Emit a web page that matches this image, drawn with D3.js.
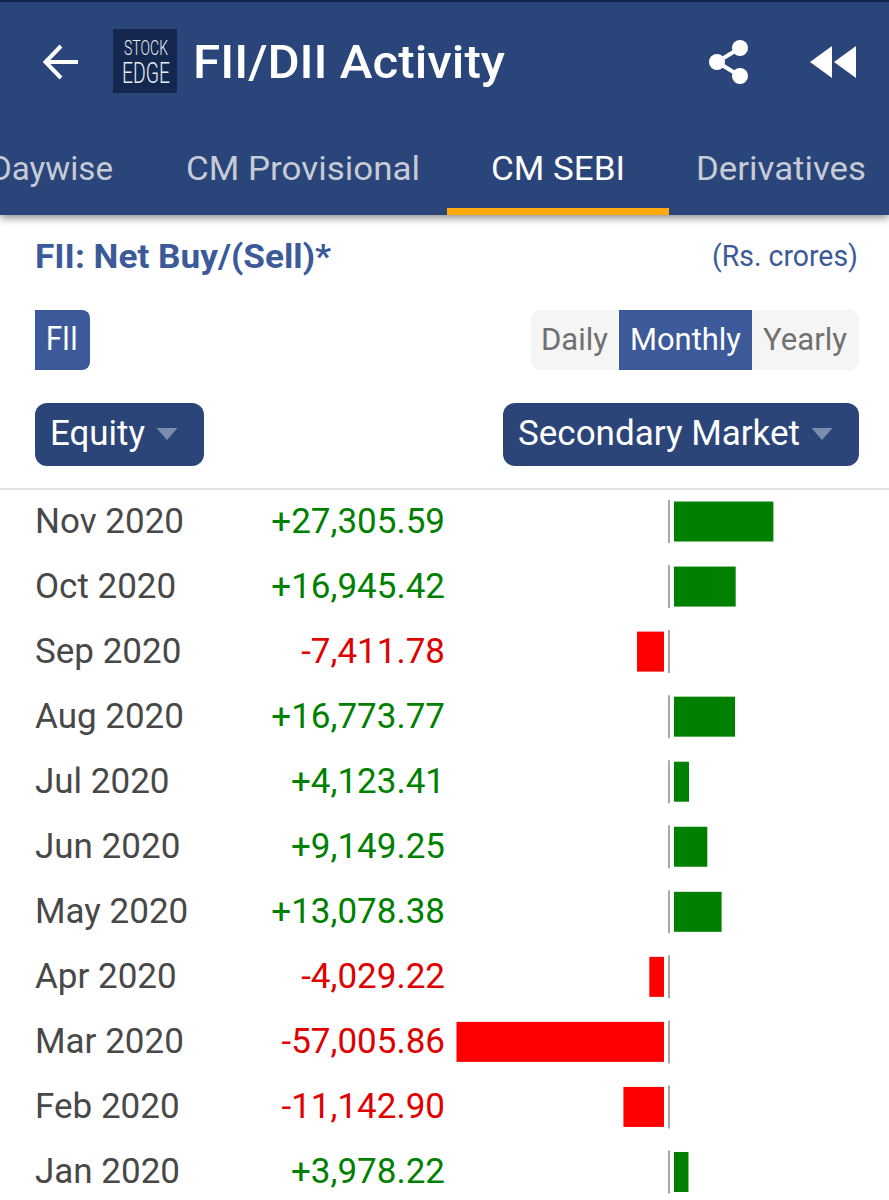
<!DOCTYPE html>
<html>
<head>
<meta charset="utf-8">
<script src="https://cdn.jsdelivr.net/npm/d3@7"></script>
<style>
html, body { margin: 0; padding: 0; background: #fff; }
svg { display: block; }
text { font-family: Roboto, sans-serif; }
</style>
</head>
<body>
<svg width="889" height="1200"></svg>
<script>
var months = ["Nov 2020", "Oct 2020", "Sep 2020", "Aug 2020", "Jul 2020", "Jun 2020", "May 2020", "Apr 2020", "Mar 2020", "Feb 2020", "Jan 2020"];
var netValues = [27305.59, 16945.42, -7411.78, 16773.77, 4123.41, 9149.25, 13078.38, -4029.22, -57005.86, -11142.90, 3978.22];
var tabs = ["Daywise", "CM Provisional", "CM SEBI", "Derivatives"];
var periods = ["Daily", "Monthly", "Yearly"];

var navy = "#2b4579";
var blue = "#3c5a99";
var svg = d3.select("svg");

// "-" not the d3 default unicode minus
var fmt = d3.formatLocale({decimal: ".", thousands: ",", grouping: [3], currency: ["", ""], minus: "-"}).format("+,.2f");

function label(x, y, str, size, color, anchor, weight, len) {
    var t = svg.append("text")
        .attr("x", x).attr("y", y)
        .attr("font-size", size)
        .attr("fill", color)
        .attr("text-anchor", anchor || "start")
        .attr("font-weight", weight || 400)
        .text(str);
    if (len) t.attr("textLength", len).attr("lengthAdjust", "spacingAndGlyphs");
    return t;
}

// header
svg.append("defs").append("filter").attr("id", "shadow")
    .attr("x", "-5%").attr("y", "-5%").attr("width", "110%").attr("height", "115%")
    .append("feDropShadow").attr("dx", 0).attr("dy", 3).attr("stdDeviation", 4)
    .attr("flood-color", "#000").attr("flood-opacity", .45);
svg.append("rect").attr("width", 889).attr("height", 215).attr("fill", navy).attr("filter", "url(#shadow)");
svg.append("rect").attr("width", 889).attr("height", 2).attr("fill", "#14244a");

// back arrow
svg.append("path").attr("d", "M78 62H47M61 46L45.500 62L61 78")
    .attr("fill", "none").attr("stroke", "#fff").attr("stroke-width", 4);

// logo
svg.append("rect").attr("x", 113).attr("y", 29).attr("width", 64).attr("height", 64).attr("fill", "#14284f");
label(146, 55, "STOCK", 21, "#e8ecf4", "middle", 300, 44);
label(146, 83, "EDGE", 29, "#e8ecf4", "middle", 300, 48);

label(193, 78, "FII/DII Activity", 47, "#fff", "start", 500, 312);

// share icon
svg.append("path").attr("d", "M740 48L717 62L740 76").attr("fill", "none").attr("stroke", "#fff").attr("stroke-width", 4);
[[740, 48], [717, 62], [740, 76]].forEach(function(p) {
    svg.append("circle").attr("cx", p[0]).attr("cy", p[1]).attr("r", 8).attr("fill", "#fff");
});
// rewind icon
svg.append("path").attr("d", "M810 62L832 46V78ZM834 62L856 46V78Z").attr("fill", "#fff");

// tabs
var tabX = [-10, 186, 491, 696];
var tabLen = [123, 234, 134, 170];
tabs.forEach(function(t, i) {
    label(tabX[i], 180, t, 34, i == 2 ? "#fff" : "#c6cbd6", "start", 400, tabLen[i]);
});
svg.append("rect").attr("x", 447).attr("y", 208).attr("width", 222).attr("height", 7).attr("fill", "#fdab0d");

// title row
label(35, 268, "FII: Net Buy/(Sell)*", 33, blue, "start", 700, 296);
label(858, 266, "(Rs. crores)", 29, blue, "end", 400, 146);

// FII button
svg.append("path").attr("d", "M35 310H82a8 8 0 0 1 8 8V362a8 8 0 0 1 -8 8H35Z").attr("fill", blue);
label(46, 350, "FII", 33, "#fff", "start", 400, 32);

// period switch
svg.append("rect").attr("x", 531).attr("y", 310).attr("width", 328).attr("height", 60).attr("rx", 9).attr("fill", "#f5f5f5");
svg.append("rect").attr("x", 619).attr("y", 310).attr("width", 133).attr("height", 60).attr("fill", blue);
var periodX = [541, 630, 763];
var periodLen = [67, 111, 84];
periods.forEach(function(p, i) {
    label(periodX[i], 350, p, 31, i == 1 ? "#fff" : "#707070", "start", 400, periodLen[i]);
});

// dropdowns
function dropdown(x, w, str, textLen) {
    svg.append("rect").attr("x", x).attr("y", 403).attr("width", w).attr("height", 63).attr("rx", 12).attr("fill", navy);
    label(x + 15, 445, str, 35, "#fff", "start", 400, textLen);
    var cx = x + w - 37;
    svg.append("path").attr("d", "M" + (cx - 10.500) + " 428H" + (cx + 10.500) + "L" + cx + " 440Z").attr("fill", "#7d8cab");
}
dropdown(35, 169, "Equity", 95);
dropdown(503, 356, "Secondary Market", 282);

// divider
svg.append("rect").attr("y", 488).attr("width", 889).attr("height", 2).attr("fill", "#e2e2e2");

// rows
var y = d3.scaleBand().domain(months).range([489, 1204.500]);
var x = d3.scaleLinear().domain([0, 57005.86]).range([0, 207.500]);
var zeroX = 669;
var gap = 5;

var rows = svg.selectAll("g.row").data(months.map(function(m, i) { return {month: m, value: netValues[i]}; }))
    .enter().append("g").attr("class", "row")
    .attr("transform", function(d) { return "translate(0," + (y(d.month) + y.bandwidth() / 2) + ")"; });

rows.append("text").attr("x", 35).attr("y", 11).attr("font-size", 35).attr("fill", "#484848")
    .text(function(d) { return d.month; });

rows.append("text").attr("x", 445).attr("y", 11).attr("font-size", 35).attr("text-anchor", "end")
    .attr("fill", function(d) { return d.value < 0 ? "#e00000" : "#008000"; })
    .text(function(d) { return fmt(d.value); });

rows.append("line").attr("x1", zeroX).attr("x2", zeroX).attr("y1", -21.500).attr("y2", 21.500)
    .attr("stroke", "#8a8a8a").attr("stroke-width", 1.500);

rows.append("rect")
    .attr("x", function(d) { return d.value < 0 ? zeroX - gap - x(-d.value) : zeroX + gap; })
    .attr("y", -20)
    .attr("width", function(d) { return x(Math.abs(d.value)); })
    .attr("height", 40)
    .attr("fill", function(d) { return d.value < 0 ? "#ff0000" : "#008000"; });
</script>
</body>
</html>
